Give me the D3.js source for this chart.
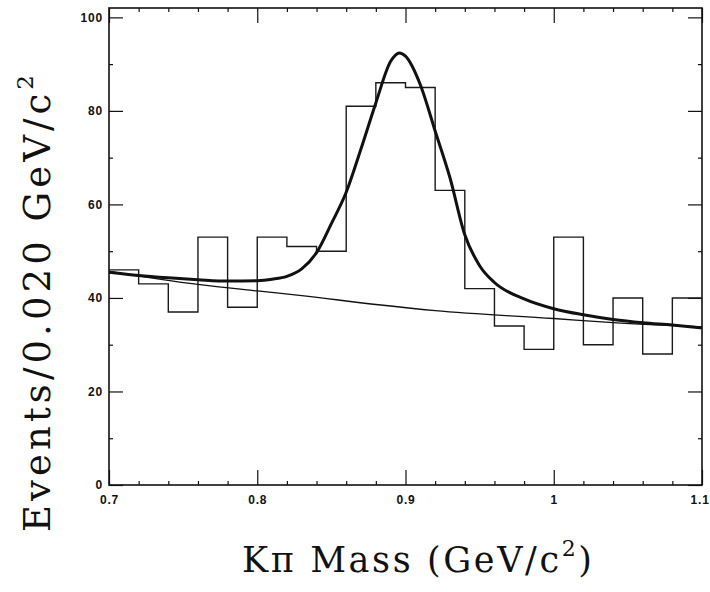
<!DOCTYPE html>
<html>
<head>
<meta charset="utf-8">
<script src="https://cdn.jsdelivr.net/npm/d3@7"></script>
<style>
body { margin: 0; background: #fff; }
.tick text { font-family: "Liberation Sans", Arial, sans-serif; font-weight: bold; font-size: 12px; letter-spacing: 0.8px; fill: #111; }
.tick line { stroke: #111; stroke-width: 1.2; }
</style>
</head>
<body>
<svg id="chart"></svg>
<script>
var w = 710;
var h = 592;
var left = 109, right = 702, topY = 8, bottom = 485;

// histogram: low edge of each 0.020 GeV/c^2 bin and its content
var binLow = [0.70, 0.72, 0.74, 0.76, 0.78, 0.80, 0.82, 0.84, 0.86, 0.88,
              0.90, 0.92, 0.94, 0.96, 0.98, 1.00, 1.02, 1.04, 1.06, 1.08];
var binCounts = [46, 43, 37, 53, 38, 53, 51, 50, 81, 86,
                 85, 63, 42, 34, 29, 53, 30, 40, 28, 40];
var binWidth = 0.02;

// background curve (thin)
var bgMass = [0.70, 0.76, 0.80, 0.83, 0.88, 0.92, 1.00, 1.04, 1.10];
var bgValue = [45.7, 42.9, 41.5, 40.5, 38.6, 37.3, 35.6, 34.7, 33.8];

// total fit (thick)
var fitMass = [0.70, 0.72, 0.74, 0.76, 0.78, 0.80, 0.81, 0.82, 0.83, 0.84, 0.85, 0.86, 0.87, 0.88,
               0.89, 0.896, 0.90, 0.91, 0.92, 0.93, 0.94, 0.95, 0.96, 0.98, 1.00, 1.02, 1.04, 1.06, 1.08, 1.10];
var fitValue = [45.5, 44.8, 44.3, 43.9, 43.6, 43.7, 44.0, 44.6, 46.2, 49.7, 55.9, 62.6, 71.9, 81.7,
                90.6, 92.4, 91.7, 85.6, 75.7, 65.7, 53.5, 46.9, 43.3, 39.8, 37.7, 36.4, 35.4, 34.7, 34.2, 33.6];

// ticks
var xMajor = [0.7, 0.8, 0.9, 1.0, 1.1];
var xLabels = ["0.7", "0.8", "0.9", "1", "1.1"];
var xMinor = [0.72, 0.74, 0.76, 0.78, 0.82, 0.84, 0.86, 0.88, 0.92, 0.94, 0.96, 0.98, 1.02, 1.04, 1.06, 1.08];
var yMajor = [0, 20, 40, 60, 80, 100];
var yMinor = [10, 30, 50, 70, 90];

let svg = d3.select("#chart")
    .attr("width", w)
    .attr("height", h);

let xScale = d3.scaleLinear().domain([0.7, 1.1]).range([left, right]);
let yScale = d3.scaleLinear().domain([0, 102]).range([bottom, topY]);

//minor ticks first, then majors with labels
function addAxis(axis, tx, ty) {
    let g = svg.append("g")
        .attr("transform", `translate(${tx},${ty})`)
        .call(axis);
    g.select(".domain").remove();
    return g;
}
addAxis(d3.axisLeft(yScale).tickValues(yMinor).tickSize(-4).tickFormat(""), left, 0);
addAxis(d3.axisRight(yScale).tickValues(yMinor).tickSize(-4).tickFormat(""), right, 0);
addAxis(d3.axisBottom(xScale).tickValues(xMinor).tickSize(-4).tickFormat(""), 0, bottom);
addAxis(d3.axisTop(xScale).tickValues(xMinor).tickSize(-4).tickFormat(""), 0, topY);

addAxis(d3.axisLeft(yScale).tickValues(yMajor).tickSize(-14).tickPadding(6).tickFormat(d3.format("d")), left, 0);
addAxis(d3.axisRight(yScale).tickValues(yMajor).tickSize(-14).tickFormat(""), right, 0);
let xg = addAxis(d3.axisBottom(xScale).tickValues(xMajor).tickSize(-15).tickPadding(10)
    .tickFormat((d, i) => xLabels[i]), 0, bottom);
xg.selectAll(".tick text").filter((d, i) => i == xMajor.length - 1).attr("text-anchor", "end").attr("dx", "0.6em");
addAxis(d3.axisTop(xScale).tickValues(xMajor).tickSize(-15).tickFormat(""), 0, topY);

//frame
svg.append("rect")
    .attr("x", left).attr("y", topY)
    .attr("width", right - left).attr("height", bottom - topY)
    .attr("fill", "none")
    .attr("stroke", "#111")
    .attr("stroke-width", 1.6);

//histogram as a step line
let histPts = binLow.map((d, i) => [d, binCounts[i]]);
histPts.push([binLow[binLow.length - 1] + binWidth, binCounts[binCounts.length - 1]]);
let stepLine = d3.line()
    .x(d => xScale(d[0]))
    .y(d => yScale(d[1]))
    .curve(d3.curveStepAfter);
svg.append("path")
    .attr("d", stepLine(histPts))
    .attr("fill", "none")
    .attr("stroke", "#1a1a1a")
    .attr("stroke-width", 1.4);

let curve = d3.line()
    .x(d => xScale(d[0]))
    .y(d => yScale(d[1]))
    .curve(d3.curveMonotoneX);

svg.append("path")
    .attr("d", curve(bgMass.map((d, i) => [d, bgValue[i]])))
    .attr("fill", "none")
    .attr("stroke", "#111")
    .attr("stroke-width", 1.3);

svg.append("path")
    .attr("d", curve(fitMass.map((d, i) => [d, fitValue[i]])))
    .attr("fill", "none")
    .attr("stroke", "#111")
    .attr("stroke-width", 3);

//axis titles
let xt = svg.append("text")
    .attr("x", 242).attr("y", 572)
    .attr("textLength", 350)
    .attr("lengthAdjust", "spacing")
    .style("font-family", "'DejaVu Serif', serif")
    .style("font-size", "35px")
    .attr("fill", "#111");
xt.append("tspan").text("K\u03c0  Mass (GeV/c");
xt.append("tspan").attr("dy", -16).style("font-size", "22px").text("2");
xt.append("tspan").attr("dy", 16).text(")");

let yt = svg.append("text")
    .attr("transform", "translate(50,532) rotate(-90)")
    .attr("x", 0).attr("y", 0)
    .attr("textLength", 457)
    .attr("lengthAdjust", "spacing")
    .style("font-family", "'DejaVu Serif', serif")
    .style("font-size", "37px")
    .attr("fill", "#111");
yt.append("tspan").text("Events/0.020 GeV/c");
yt.append("tspan").attr("dy", -17).style("font-size", "23px").text("2");
</script>
</body>
</html>
